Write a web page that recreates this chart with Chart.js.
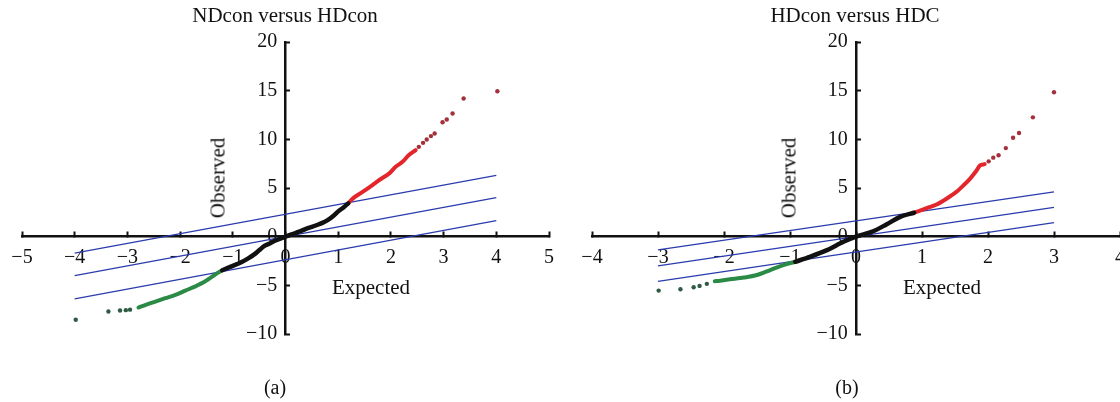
<!DOCTYPE html>
<html>
<head>
<meta charset="utf-8">
<script src="https://cdn.jsdelivr.net/npm/chart.js@4.4.1/dist/chart.umd.min.js"></script>
<style>
  html, body { margin: 0; padding: 0; background: #fff; overflow: hidden; }
  body { width: 1120px; height: 402px; position: relative; font-family: 'Liberation Serif', 'DejaVu Serif', serif; color: #111; }
  canvas { position: absolute; top: 0; }
  /* canvas A starts off-page so the "−5" label overhang does not squeeze the plot */
  #chartA { left: -10px; }
  #chartB { left: 560px; }
  .lbl { position: absolute; font-size: 21px; line-height: 1; white-space: nowrap; transform: translate(-50%, -50%); }
  .rot { transform: translate(-50%, -50%) rotate(-90deg); }
</style>
</head>
<body>
<canvas id="chartA" width="580" height="402"></canvas>
<canvas id="chartB" width="600" height="402"></canvas>

<div class="lbl" style="left:285px; top:15px;">NDcon versus HDcon</div>
<div class="lbl" style="left:855px; top:15px;">HDcon versus HDC</div>
<div class="lbl rot" style="left:218px; top:178px;">Observed</div>
<div class="lbl rot" style="left:789px; top:178px;">Observed</div>
<div class="lbl" style="left:371px; top:287px;">Expected</div>
<div class="lbl" style="left:942px; top:287px;">Expected</div>
<div class="lbl" style="left:275px; top:387px; font-size:20px;">(a)</div>
<div class="lbl" style="left:847px; top:387px; font-size:20px;">(b)</div>

<script>
// ══════════════════════════════════════════
// Q-Q plots: Expected vs Observed
// ══════════════════════════════════════════

// ---- (a) NDcon versus HDcon ----
const A_X_RANGE = [-5, 5];
const A_Y_RANGE = [-10, 20];

const A_BLACK = [[-1.2, -3.45], [-1.05, -3.1], [-0.85, -2.65], [-0.7, -2.2], [-0.6, -1.85], [-0.5, -1.4],
    [-0.4, -0.95], [-0.3, -0.7], [-0.2, -0.42], [-0.1, -0.2], [0, 0], [0.1, 0.2], [0.2, 0.4], [0.3, 0.6],
    [0.4, 0.83], [0.5, 1.0], [0.6, 1.2], [0.7, 1.42], [0.8, 1.7], [0.9, 2.1], [1.0, 2.6], [1.1, 3.0], [1.19, 3.42]];
const A_RED_LINE = [[1.19, 3.42], [1.28, 3.94], [1.47, 4.62], [1.65, 5.3], [1.78, 5.82], [1.97, 6.5],
    [2.09, 7.18], [2.22, 7.69], [2.34, 8.38], [2.47, 8.89]];
const A_RED_DOTS = [[2.53, 9.23], [2.61, 9.64], [2.68, 9.99], [2.76, 10.33], [2.83, 10.6], [2.98, 11.76],
    [3.06, 12.04], [3.17, 12.66], [3.38, 14.19], [4.02, 14.94]];
const A_GREEN_LINE = [[-1.2, -3.45], [-1.28, -3.69], [-1.53, -4.61], [-1.72, -5.13], [-1.9, -5.54],
    [-2.09, -5.98], [-2.28, -6.32], [-2.47, -6.67], [-2.65, -7.0], [-2.79, -7.28]];
const A_GREEN_DOTS = [[-2.95, -7.5], [-3.03, -7.55], [-3.14, -7.59], [-3.36, -7.69], [-3.98, -8.54]];
const A_BANDS = [
    [[-4, -1.7], [4, 6.3]],
    [[-4, -4.0], [4, 4.0]],
    [[-4, -6.4], [4, 1.65]],
];

// ---- (b) HDcon versus HDC ----
const B_X_RANGE = [-4, 4];
const B_Y_RANGE = [-10, 20];

const B_BLACK = [[-0.92, -2.58], [-0.7, -2.07], [-0.44, -1.38], [-0.19, -0.53], [0, 0], [0.26, 0.56],
    [0.46, 1.25], [0.67, 2.03], [0.88, 2.46]];
const B_RED_LINE = [[0.88, 2.46], [1.0, 2.75], [1.1, 3.0], [1.22, 3.3], [1.37, 3.9], [1.52, 4.6], [1.63, 5.28],
    [1.73, 5.97], [1.83, 6.82], [1.88, 7.33], [1.95, 7.45]];
const B_RED_DOTS = [[2.01, 7.74], [2.08, 8.12], [2.16, 8.36], [2.27, 9.1], [2.38, 10.17], [2.47, 10.65],
    [2.68, 12.26], [3.0, 14.84]];
const B_GREEN_LINE = [[-0.92, -2.58], [-1.1, -2.92], [-1.3, -3.43], [-1.5, -3.94], [-1.7, -4.2],
    [-1.91, -4.38], [-2.06, -4.52], [-2.14, -4.58]];
const B_GREEN_DOTS = [[-2.26, -4.85], [-2.37, -5.06], [-2.46, -5.2], [-2.66, -5.4], [-2.99, -5.54]];
const B_BANDS = [
    [[-3, -1.35], [3, 4.6]],
    [[-3, -3.0], [3, 3.0]],
    [[-3, -4.6], [3, 1.45]],
];

const Y_STEP = 5;
const X_STEP = 1;

// ---- helpers ----
const toXY = pts => pts.map(p => ({ x: p[0], y: p[1] }));
const fmt = v => v < 0 ? '\u2212' + Math.abs(v) : String(v);
// y labels are right-aligned on the axis line itself, so a narrow space keeps a gap
const fmtY = v => fmt(v) + '\u2004\u200a';

function curve(pts, color, width) {
    return { data: toXY(pts), showLine: true, borderColor: color, borderWidth: width,
        pointRadius: 0, tension: 0.3, borderCapStyle: 'round' };
}

function dots(pts, color) {
    return { data: toXY(pts), showLine: false, backgroundColor: color, borderWidth: 0,
        pointRadius: 2.2, pointHoverRadius: 2.2 };
}

function band(pts) {
    return { data: toXY(pts), showLine: true, borderColor: '#2a3cae', borderWidth: 1.3, pointRadius: 0 };
}

function axisFont() {
    return { family: "'Liberation Serif', serif", size: 20 };
}

function renderQQ(canvasId, xr, yr, parts, pad) {
    const ctx = document.getElementById(canvasId).getContext('2d');
    return new Chart(ctx, {
        type: 'scatter',
        data: {
            datasets: [
                curve(parts.black, '#111', 4.5),
                curve(parts.redLine, '#e3262b', 4),
                dots(parts.redDots, '#a4303c'),
                curve(parts.greenLine, '#2b8a45', 4),
                dots(parts.greenDots, '#2f5a44'),
                ...parts.bands.map(band),
            ]
        },
        options: {
            responsive: false,
            animation: false,
            events: [],
            layout: { padding: pad },
            plugins: { legend: { display: false }, tooltip: { enabled: false } },
            scales: {
                x: {
                    type: 'linear',
                    min: xr[0], max: xr[1],
                    position: { y: 0 },
                    afterFit: s => { s.height = 0; },
                    border: { display: true, color: '#111', width: 2.5 },
                    grid: { drawOnChartArea: false, drawTicks: true, tickLength: -6, tickWidth: 2, tickColor: '#111' },
                    ticks: { stepSize: X_STEP, color: '#111', font: axisFont(), padding: 15, callback: fmt, maxRotation: 0 },
                },
                y: {
                    type: 'linear',
                    min: yr[0], max: yr[1],
                    position: { x: 0 },
                    afterFit: s => { s.width = 0; },
                    border: { display: true, color: '#111', width: 2.5 },
                    grid: { drawOnChartArea: false, drawTicks: true, tickLength: -6, tickWidth: 2, tickColor: '#111' },
                    ticks: { stepSize: Y_STEP, color: '#111', font: axisFont(), padding: 4, callback: fmtY },
                }
            }
        }
    });
}

renderQQ('chartA', A_X_RANGE, A_Y_RANGE, {
    black: A_BLACK, redLine: A_RED_LINE, redDots: A_RED_DOTS,
    greenLine: A_GREEN_LINE, greenDots: A_GREEN_DOTS, bands: A_BANDS,
}, { left: 32, right: 21, top: 42, bottom: 68 });

renderQQ('chartB', B_X_RANGE, B_Y_RANGE, {
    black: B_BLACK, redLine: B_RED_LINE, redDots: B_RED_DOTS,
    greenLine: B_GREEN_LINE, greenDots: B_GREEN_DOTS, bands: B_BANDS,
}, { left: 32, right: 40, top: 42, bottom: 68 });
</script>
</body>
</html>
